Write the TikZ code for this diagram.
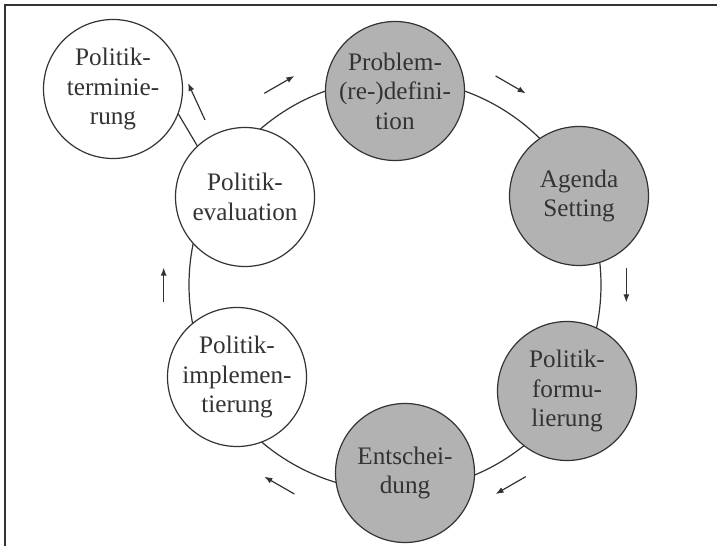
\documentclass[tikz,border=0pt]{standalone}
\usepackage{fontspec}
\setmainfont{Liberation Serif}
\usepackage{tikz}
\usetikzlibrary{arrows.meta}

\begin{document}
\begin{tikzpicture}[x=0.5pt, y=0.5pt, line width=0.6pt, black!80,
    phase/.style={draw, circle, fill=white, minimum size=69.5pt, inner sep=0pt,
                  align=center, font=\fontsize{12.6}{14.8}\selectfont},
    dark/.style={phase, fill=black!30},
    arr/.style={-{Latex[length=4pt, width=3pt]}}]

  \useasboundingbox (0,0) rectangle (717,546);
  \draw[line width=1pt] (5,0) -- (5,541) -- (717,541);

  % Kreislauf
  \coordinate (m) at (395,261);
  \draw (m) circle (206);

  \node[dark] (prob) at (395,455) {Problem-\\(re-)defini-\\tion};
  \node[dark] (agenda) at (579,350) {Agenda\\Setting};
  \node[dark] (formul) at (567,155) {Politik-\\formu-\\lierung};
  \node[dark] (entsch) at (405,73) {Entschei-\\dung};
  \node[phase] (impl) at (237,169) {Politik-\\implemen-\\tierung};
  \node[phase] (eval) at (245,349) {Politik-\\evaluation};
  \node[phase] (termin) at (113,457) {Politik-\\terminie-\\rung};

  \draw (eval.133) -- (termin.-21);

  % Richtungspfeile
  \foreach \a in {120,60,...,-180}
    \draw[arr] ([shift={({\a+4.3}:232)}]m) -- ([shift={({\a-4.3}:232)}]m);
  \draw[arr] (205,426) -- (188,463);
\end{tikzpicture}
\end{document}
